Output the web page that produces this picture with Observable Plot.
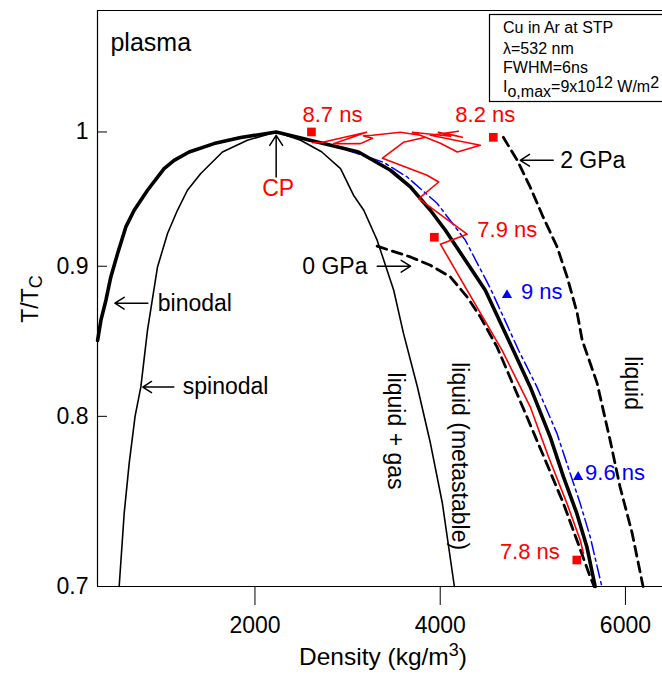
<!DOCTYPE html>
<html>
<head>
<meta charset="utf-8">
<script src="https://cdn.jsdelivr.net/npm/d3@7"></script>
<script src="https://cdn.jsdelivr.net/npm/@observablehq/plot@0.6"></script>
<style>
  body { margin: 0; background: #fff; }
  #chart svg { display: block; }
</style>
</head>
<body>
<div id="chart"></div>
<script>
const FONT = "'Liberation Sans', Arial, Helvetica, sans-serif";

// Axis ticks
const xTicks = [2000, 4000, 6000];
const yTicks = [0.7, 0.8, 0.9, 1];

// Coexistence curve (binodal), density in kg/m^3 vs T/Tc
const binodalDensity = [301, 337, 391, 444, 517, 606, 696, 840, 1019, 1127, 1289, 1558, 1846, 2229, 2673, 3118, 3463, 3678, 3894, 4056, 4487, 4789, 4972, 5188, 5330, 5475, 5583, 5673];
const binodalT       = [0.849, 0.8627, 0.8763, 0.8925, 0.909, 0.9282, 0.9404, 0.9553, 0.9717, 0.978, 0.9844, 0.9909, 0.9956, 1.0, 0.9922, 0.9844, 0.9704, 0.9578, 0.9404, 0.9258, 0.8832, 0.8426, 0.8187, 0.7871, 0.763, 0.7413, 0.7222, 0.700];

// Spinodal
const spinodalDensity = [534, 588, 642, 706, 768, 840, 948, 1056, 1163, 1271, 1415, 1649, 1918, 2229, 2493, 2719, 2924, 3064, 3175, 3319, 3498, 3603, 3754, 3894, 4023, 4153];
const spinodalT       = [0.700, 0.7413, 0.771, 0.8001, 0.8187, 0.856, 0.8995, 0.9234, 0.9404, 0.9553, 0.9679, 0.9844, 0.9935, 1.0, 0.9935, 0.9846, 0.9717, 0.9516, 0.9404, 0.9186, 0.8832, 0.854, 0.8186, 0.7834, 0.7474, 0.700];

// Isobars
const iso0Density = [3319, 3678, 3894, 4110, 4290, 4433, 4613, 4936, 5134, 5330, 5475, 5619, 5662];
const iso0T       = [0.9143, 0.9066, 0.9007, 0.8925, 0.8786, 0.865, 0.8448, 0.7997, 0.773, 0.7472, 0.726, 0.7054, 0.700];
const iso2Density = [4681, 4832, 4972, 5112, 5263, 5371, 5479, 5533, 5694, 5834, 5942, 6072, 6190];
const iso2T       = [0.9958, 0.978, 0.9576, 0.9353, 0.9136, 0.8923, 0.8675, 0.8493, 0.8211, 0.7852, 0.7568, 0.730, 0.700];

// Simulated thermodynamic path (red) and second path (blue)
const pathRedDensity = [5547, 5511, 5368, 5169, 4972, 4667, 4002, 4290, 3768, 3984, 3858, 3377, 3603, 3840, 3700, 4110, 3980, 4239, 4056, 4196, 3894, 4433, 4185, 4002, 3786, 3571, 3269, 3172, 3269, 3139, 2848, 3204, 2730, 2622];
const pathRedT       = [0.7184, 0.726, 0.7472, 0.775, 0.806, 0.8426, 0.9157, 0.9229, 0.9491, 0.9615, 0.9666, 0.9796, 0.9919, 0.9958, 0.9998, 0.9966, 0.9998, 0.9958, 0.999, 1.0005, 0.9974, 0.9896, 0.9844, 0.9912, 0.9974, 0.9998, 0.9974, 0.9969, 0.9951, 0.9909, 0.9908, 0.9998, 0.992, 0.9916];
const pathBlueDensity = [2996, 3387, 3643, 3966, 4271, 4541, 4846, 5044, 5260, 5403, 5511, 5619, 5745];
const pathBlueT       = [0.9858, 0.9765, 0.9653, 0.9456, 0.9186, 0.8846, 0.8426, 0.8187, 0.7894, 0.765, 0.7472, 0.7279, 0.700];

// Time markers
const squareDensity = [2610, 4573, 3937, 5475];
const squareT       = [1.0, 0.9958, 0.9207, 0.7147];
const squareLabels  = ["8.7 ns", "8.2 ns", "7.9 ns", "7.8 ns"];
const triDensity = [4721, 5489];
const triT       = [0.8798, 0.7628];
const triLabels  = ["9 ns", "9.6 ns"];

// Annotation arrows: [density1, T1, density2, T2]
const arrowCP       = [2229, 0.9653, 2229, 0.9974];
const arrow0GPa     = [3320, 0.9, 3680, 0.9];
const arrow2GPa     = [5220, 0.978, 4864, 0.978];
const arrowBinodal  = [843, 0.8743, 488, 0.8743];
const arrowSpinodal = [1124, 0.8186, 789, 0.8186];

const rows = (xs, ys) => xs.map((d, i) => ({density: d, t: ys[i]}));
const arrows = [arrowCP, arrow0GPa, arrow2GPa, arrowBinodal, arrowSpinodal]
  .map(([x1, y1, x2, y2]) => ({x1, y1, x2, y2}));

const squares = squareDensity.map((d, i) => ({density: d, t: squareT[i], label: squareLabels[i]}));
const tris = triDensity.map((d, i) => ({density: d, t: triT[i], label: triLabels[i]}));

const txt = {fontSize: 23, fontFamily: FONT, lineAnchor: "middle"};

function markerLabel(data, i, fill, opts) {
  return Plot.text([data[i]], {x: "density", y: "t", text: "label", fill, ...txt, fontSize: 22, ...opts});
}

const chart = Plot.plot({
  width: 662,
  height: 677,
  marginLeft: 97,
  marginRight: 0,
  marginTop: 10,
  marginBottom: 91,
  style: {fontFamily: FONT, background: "#fff"},
  x: {domain: [300, 6400]},
  y: {type: "log", domain: [0.7, 1.1]},
  marks: [
    Plot.axisX({ticks: xTicks, tickSize: 19, tickPadding: 11, fontSize: 23, tickFormat: d => String(d), label: null}),
    Plot.axisY({ticks: yTicks, tickSize: 0, tickPadding: 9, fontSize: 23, tickFormat: d => String(d), label: null}),
    Plot.ruleY(yTicks, {insetRight: 555, stroke: "#000", strokeWidth: 1}),
    Plot.ruleX([300], {stroke: "#000", strokeWidth: 1.2}),
    Plot.ruleY([0.7, 1.1], {stroke: "#000", strokeWidth: 1.2}),

    Plot.line(rows(spinodalDensity, spinodalT), {x: "density", y: "t", stroke: "#000", strokeWidth: 1.6}),
    Plot.line(rows(iso0Density, iso0T), {x: "density", y: "t", stroke: "#000", strokeWidth: 2.8, strokeDasharray: "10,6"}),
    Plot.line(rows(iso2Density, iso2T), {x: "density", y: "t", stroke: "#000", strokeWidth: 2.8, strokeDasharray: "10,6"}),
    Plot.line(rows(pathBlueDensity, pathBlueT), {x: "density", y: "t", stroke: "#0000ff", strokeWidth: 1.5, strokeDasharray: "13,4,3,4"}),
    Plot.line(rows(binodalDensity, binodalT), {x: "density", y: "t", stroke: "#000", strokeWidth: 3.6, strokeLinejoin: "round"}),
    Plot.line(rows(pathRedDensity, pathRedT), {x: "density", y: "t", stroke: "#ff0000", strokeWidth: 1.6}),

    Plot.dot(squares, {x: "density", y: "t", symbol: "square", r: 4.9, fill: "#ff0000"}),
    Plot.dot(tris, {x: "density", y: "t", symbol: "triangle", r: 3.8, fill: "#0000ff"}),

    Plot.arrow(arrows, {x1: "x1", y1: "y1", x2: "x2", y2: "y2", stroke: "#000", strokeWidth: 1.5, headLength: 12, headAngle: 65}),

    markerLabel(squares, 0, "#ff0000", {dx: 21, dy: -17}),
    markerLabel(squares, 1, "#ff0000", {dx: -8, dy: -22}),
    markerLabel(squares, 2, "#ff0000", {dx: 43, dy: -7, textAnchor: "start"}),
    markerLabel(squares, 3, "#ff0000", {dx: -17, dy: -8, textAnchor: "end"}),
    markerLabel(tris, 0, "#0000ff", {dx: 14, dy: -3, textAnchor: "start"}),
    markerLabel(tris, 1, "#0000ff", {dx: 7, dy: -4, textAnchor: "start"}),

    Plot.text(["plasma"], {x: 440, y: 1.0721, textAnchor: "start", fill: "#000", ...txt, fontSize: 25}),
    Plot.text(["CP"], {x: 2250, y: 0.9564, fill: "#ff0000", ...txt}),
    Plot.text(["0 GPa"], {x: 3215, y: 0.9, textAnchor: "end", fill: "#000", ...txt}),
    Plot.text(["2 GPa"], {x: 5295, y: 0.978, textAnchor: "start", fill: "#000", ...txt}),
    Plot.text(["binodal"], {x: 951, y: 0.8743, textAnchor: "start", fill: "#000", ...txt}),
    Plot.text(["spinodal"], {x: 1221, y: 0.8186, textAnchor: "start", fill: "#000", ...txt}),
    Plot.text(["liquid + gas"], {x: 3517, y: 0.7908, rotate: 90, fill: "#000", ...txt}),
    Plot.text(["liquid (metastable)"], {x: 4207, y: 0.7754, rotate: 90, fill: "#000", ...txt}),
    Plot.text(["liquid"], {x: 6072, y: 0.8211, rotate: 90, fill: "#000", ...txt})
  ]
});

const svg = d3.select(chart);

// X-axis title with superscript
const xTitle = svg.append("text")
  .attr("x", 383).attr("y", 665)
  .attr("text-anchor", "middle")
  .attr("font-family", FONT)
  .attr("font-size", 24.5)
  .attr("fill", "#000");
xTitle.append("tspan").text("Density (kg/m");
xTitle.append("tspan").attr("font-size", 18).attr("dy", -9).text("3");
xTitle.append("tspan").attr("dy", 9).text(")");

// Y-axis title with subscript
const yTitle = svg.append("text")
  .attr("transform", "translate(30,299) rotate(-90)")
  .attr("text-anchor", "middle")
  .attr("dominant-baseline", "central")
  .attr("font-family", FONT)
  .attr("font-size", 23)
  .attr("fill", "#000");
yTitle.append("tspan").text("T/T");
yTitle.append("tspan").attr("font-size", 18).attr("dy", 6).text("C");

// Conditions box
const box = svg.append("g")
  .attr("font-family", FONT).attr("font-size", 16)
  .attr("text-anchor", "start").attr("fill", "#000");
box.append("rect")
  .attr("x", 489.5).attr("y", 14.5).attr("width", 180).attr("height", 87)
  .attr("fill", "#fff").attr("stroke", "#000").attr("stroke-width", 1.2);
box.append("text").attr("x", 503).attr("y", 32.5).text("Cu in Ar at STP");
box.append("text").attr("x", 503).attr("y", 54).text("λ=532 nm");
box.append("text").attr("x", 503).attr("y", 72.7).text("FWHM=6ns");
const io = box.append("text").attr("x", 503).attr("y", 91.7);
io.append("tspan").text("I");
io.append("tspan").attr("dy", 5).text("o,max");
io.append("tspan").attr("dy", -5).text("=9x10");
io.append("tspan").attr("dy", -4).text("12");
io.append("tspan").attr("dy", 4).text(" W/m");
io.append("tspan").attr("dy", -4).text("2");

document.getElementById("chart").appendChild(chart);
</script>
</body>
</html>
